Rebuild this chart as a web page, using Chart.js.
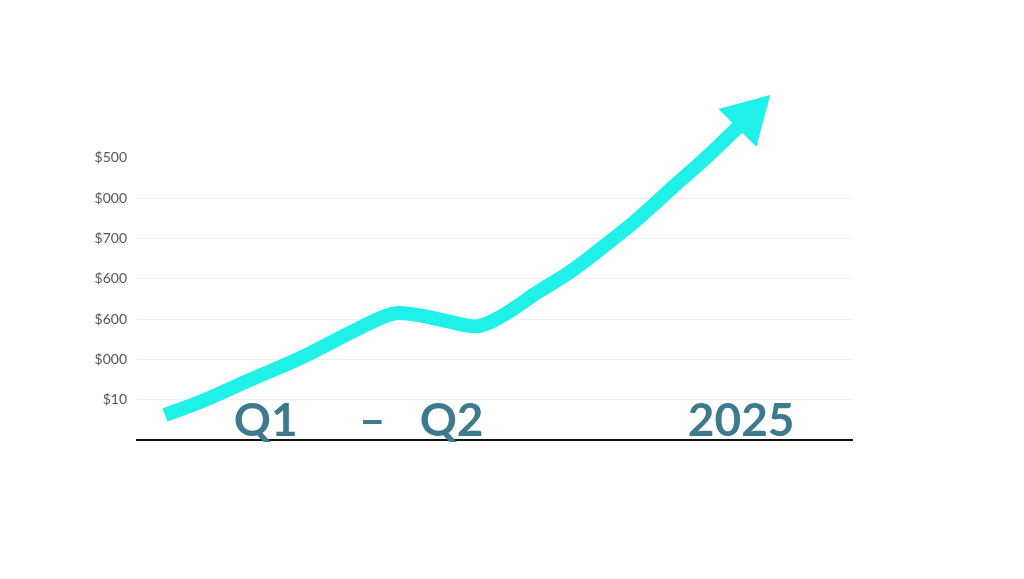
<!DOCTYPE html>
<html>
<head>
<meta charset="utf-8">
<script src="https://cdn.jsdelivr.net/npm/chart.js@4/dist/chart.umd.min.js"></script>
<style>
  html, body { margin: 0; padding: 0; background: #fff; overflow: hidden; }
  #wrap { width: 1024px; height: 579px; position: relative; }
</style>
</head>
<body>
<div id="wrap"><canvas id="growthChart"></canvas></div>
<script>
// values (x = time along the axis, y = grid steps)
const growthX = [3.9, 8.8, 15.8, 22.8, 29.8, 34.4, 36.5, 39.2, 43.8, 47.6, 50.8, 55.9, 60.6, 65.2, 69.9, 75.0, 79.7, 85.5];
const growthY = [0.62, 0.94, 1.49, 2.03, 2.66, 3.05, 3.15, 3.10, 2.93, 2.82, 3.05, 3.65, 4.17, 4.79, 5.46, 6.28, 7.02, 8.01];

// y tick labels, bottom to top (as printed in the reference)
const yTickLabels = ['', '$10', '$000', '$600', '$600', '$700', '$000', '$500'];

// period labels along the time axis
const periodLabels = ['Q1', '–', 'Q2', '2025'];
const periodX = [18.0, 32.9, 44.0, 84.5];

const lineColor = '#1ff0e8';
const lastIndex = growthX.length - 1;

const periodLabelPlugin = {
    id: 'periodLabels',
    afterDatasetsDraw(chart) {
        const { ctx, scales: { x, y } } = chart;
        ctx.save();
        ctx.font = 'bold 46px Lato, "Open Sans", sans-serif';
        ctx.fillStyle = '#3d7a8d';
        ctx.textAlign = 'center';
        ctx.textBaseline = 'alphabetic';
        periodLabels.forEach((label, i) => {
            ctx.fillText(label, x.getPixelForValue(periodX[i]), y.getPixelForValue(0) - 4);
        });
        ctx.restore();
    }
};

const ctx = document.getElementById('growthChart').getContext('2d');
new Chart(ctx, {
    type: 'line',
    data: {
        datasets: [{
            label: 'Growth',
            data: growthX.map((x, i) => ({ x: x, y: growthY[i] })),
            borderColor: lineColor,
            backgroundColor: lineColor,
            borderWidth: 14,
            borderCapStyle: 'butt',
            tension: 0.35,
            fill: false,
            pointStyle: 'triangle',
            pointRotation: 45,
            pointRadius: (c) => c.dataIndex === lastIndex ? 31 : 0,
            pointHoverRadius: (c) => c.dataIndex === lastIndex ? 31 : 0,
            pointBorderWidth: 0,
            pointHoverBorderWidth: 0
        }]
    },
    options: {
        responsive: true,
        maintainAspectRatio: false,
        animation: false,
        events: [],
        layout: { padding: { top: 77, right: 172, bottom: 139, left: 0 } },
        plugins: {
            legend: { display: false },
            tooltip: { enabled: false }
        },
        scales: {
            x: {
                type: 'linear',
                min: 0,
                max: 100,
                ticks: { display: false },
                grid: { display: false },
                border: { display: true, color: '#111', width: 2 },
                afterFit: (scale) => { scale.height = 0; }
            },
            y: {
                type: 'linear',
                min: 0,
                max: 9,
                ticks: {
                    stepSize: 1,
                    padding: 10,
                    color: '#555',
                    font: { family: 'Lato, "Open Sans", sans-serif', size: 14 },
                    callback: (v) => yTickLabels[v] || ''
                },
                grid: {
                    drawTicks: false,
                    color: (c) => (c.tick && c.tick.value >= 1 && c.tick.value <= 6) ? '#eef1f1' : 'rgba(0,0,0,0)'
                },
                border: { display: false },
                afterFit: (scale) => { scale.width = 137; }
            }
        }
    },
    plugins: [periodLabelPlugin]
});
</script>
</body>
</html>
